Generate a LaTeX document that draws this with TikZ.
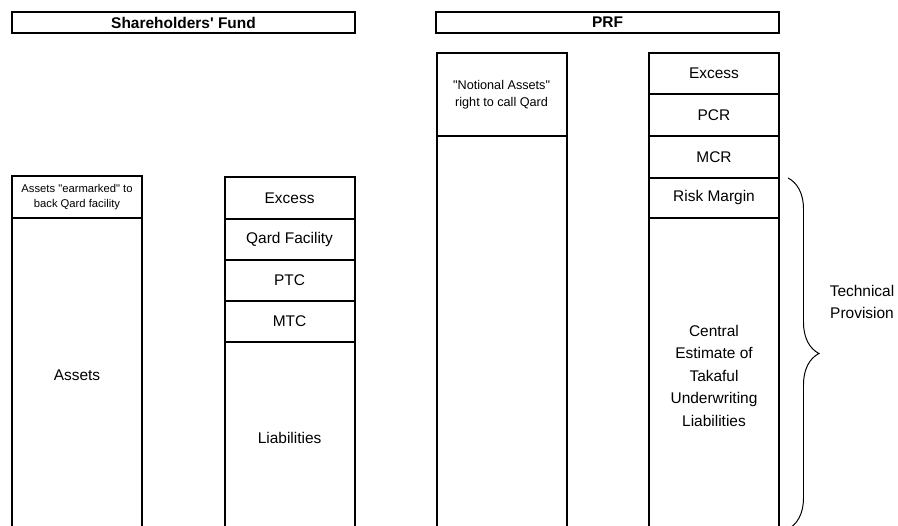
\documentclass[tikz,border=0pt]{standalone}
\usepackage{fontspec}
\newfontfamily\labelfont{Liberation Sans}
\usetikzlibrary{positioning, decorations.pathreplacing}

\tikzset{
  cell/.style={draw, line width=1.4pt, outer sep=0pt, minimum width=3.25cm, minimum height=1.025cm, inner sep=1pt, align=center, font=\labelfont\fontsize{11}{16}\selectfont},
  titlebar/.style={draw, line width=1.4pt, outer sep=0pt, minimum width=8.575cm, minimum height=0.525cm, inner sep=0pt, font=\labelfont\fontsize{11}{13}\selectfont\bfseries},
}

\begin{document}
\begin{tikzpicture}
    \useasboundingbox (0,0) rectangle (22.45,13.125);
    \clip (0,0) rectangle (22.45,13.125);

    % Fund headers
    \node[titlebar] (sf) at (4.5875,12.5625) {Shareholders' Fund};
    \node[titlebar] (prf) at (15.1875,12.5625) {PRF};

    % Shareholders' Fund: assets
    \node[cell, minimum height=1.05cm, font=\labelfont\fontsize{8}{10.7}\selectfont] (earmark) at (1.925,8.2) {Assets "earmarked" to\\back Qard facility};
    \node[cell, minimum height=7.875cm, below=0pt of earmark] (assets) {Assets};

    % Shareholders' Fund: liabilities
    \node[cell, minimum height=1.05cm] (sfexcess) at (7.24,8.175) {Excess};
    \node[cell, below=0pt of sfexcess] (qard) {Qard Facility};
    \node[cell, below=0pt of qard] (ptc) {PTC};
    \node[cell, below=0pt of ptc] (mtc) {MTC};
    \node[cell, minimum height=4.775cm, below=0pt of mtc] (liab) {Liabilities};

    % PRF: notional assets
    \node[cell, minimum height=2.075cm, font=\labelfont\fontsize{9}{11.9}\selectfont] (notional) at (12.54,10.7625) {"Notional Assets"\\right to call Qard};
    \node[cell, minimum height=9.925cm, below=0pt of notional] (prfassets) {};

    % PRF: capital and provisions
    \node[cell] (prfexcess) at (17.85,11.2875) {Excess};
    \node[cell, minimum height=1.05cm, below=0pt of prfexcess] (pcr) {PCR};
    \node[cell, minimum height=1.05cm, below=0pt of pcr] (mcr) {MCR};
    \node[cell, minimum height=1cm, below=0pt of mcr] (risk) {Risk Margin};
    \node[cell, minimum height=7.875cm, below=0pt of risk] (central) {Central\\Estimate of\\Takaful\\Underwriting\\Liabilities};

    % Technical provision brace
    \coordinate (bracetop) at ([xshift=0.225cm]risk.north east);
    \coordinate (bracebot) at (bracetop |- 0,-0.1);
    \draw[decorate, decoration={brace, amplitude=0.775cm}, line width=0.7pt] (bracetop) -- (bracebot);
    \node[align=center, font=\labelfont\fontsize{11}{16}\selectfont] (tp) at (21.55,5.575) {Technical\\Provision};
\end{tikzpicture}
\end{document}
